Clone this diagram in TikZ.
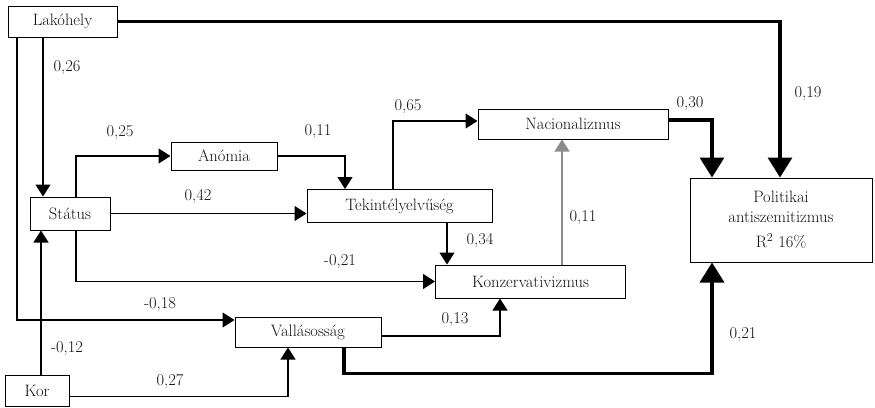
\documentclass[tikz,border=0pt]{standalone}
\usetikzlibrary{arrows.meta}
\definecolor{txt}{HTML}{111111}
\tikzset{
  box/.style={draw=black, line width=1pt, rectangle, inner sep=0pt, text=txt,
    font=\rmfamily\fontsize{16.5}{20}\selectfont},
  lbl/.style={text=txt, inner sep=0pt, font=\rmfamily\fontsize{16.5}{20}\selectfont},
  arr/.style={draw=black, line width=1.2pt, -{Triangle[length=12pt,width=15pt]}},
  garr/.style={draw=black!45, line width=1.4pt, -{Triangle[length=12pt,width=15pt]}},
  tarr/.style={draw=black, line width=3.4pt, -{Triangle[length=20pt,width=24pt]}}
}
\begin{document}
\begin{tikzpicture}[x=1pt,y=-1pt]
\useasboundingbox (0,0) rectangle (875,407);
% nodes
\node[box, minimum width=109pt, minimum height=31pt] (lak) at (62.5,21.5) {Lakóhely};
\node[box, minimum width=80pt, minimum height=33pt] (sta) at (70,213.5) {Státus};
\node[box, minimum width=106pt, minimum height=28pt] (ano) at (224,156) {Anómia};
\node[box, minimum width=185pt, minimum height=33pt] (tek) at (399.5,206) {Tekintélyelvűség};
\node[box, minimum width=190pt, minimum height=30pt] (nac) at (573,124) {Nacionalizmus};
\node[box, minimum width=182pt, minimum height=84pt, align=center] (pol) at (781,220)
  {Politikai\\antiszemitizmus\\[5pt]R$^2$ 16\%};
\node[box, minimum width=190pt, minimum height=33pt] (kon) at (530.5,281.5) {Konzervativizmus};
\node[box, minimum width=146pt, minimum height=30pt] (val) at (308,332) {Vallásosság};
\node[box, minimum width=64pt, minimum height=31pt] (kor) at (37,390.5) {Kor};
% connectors
\draw[arr] ([xshift=-45.5pt]lak.south) |- ([yshift=12pt]val.west);
\draw[arr] ([xshift=-27pt]sta.north |- lak.south) -- ([xshift=-27pt]sta.north);
\draw[arr] ([xshift=6pt]sta.north) |- (ano.west);
\draw[arr] (ano.east) -| ([xshift=-54.5pt]tek.north);
\draw[arr] (sta.east) -- (sta.east -| tek.west);
\draw[arr] ([xshift=-6.5pt]tek.north) |- ([yshift=3pt]nac.west);
\draw[arr] ([xshift=-83.5pt]kon.north |- tek.south) -- ([xshift=-83.5pt]kon.north);
\draw[garr] ([xshift=-11pt]nac.south |- kon.north) -- ([xshift=-11pt]nac.south);
\draw[arr] ([xshift=6pt]sta.south) |- (kon.west);
\draw[arr] ([yshift=-4pt]val.east) -| ([xshift=-30.5pt]kon.south);
\draw[tarr] ([xshift=36pt]val.south) -- ([xshift=36pt,yshift=-26pt]val.south) -| ([xshift=-69pt]pol.south);
\draw[tarr] ([yshift=4pt]nac.east) -| ([xshift=-69pt]pol.north);
\draw[tarr] (lak.east) -| ([xshift=-1pt]pol.north);
\draw[arr] ([xshift=-29pt]sta.south |- kor.north) -- ([xshift=-29pt]sta.south);
\draw[arr] ([yshift=-6pt]kor.east) -| ([xshift=-20pt]val.south);
% labels
\node[lbl] (l1) at (67,68) {0,26};
\node[lbl] (l2) at (120,133) {0,25};
\node[lbl] (l3) at (318,132) {0,11};
\node[lbl] (l4) at (198,197) {0,42};
\node[lbl] (l5) at (408,107) {0,65};
\node[lbl] (l6) at (690,104) {0,30};
\node[lbl] (l7) at (808,94) {0,19};
\node[lbl] (l8) at (480,241) {0,34};
\node[lbl] (l9) at (583,218) {0,11};
\node[lbl] (l10) at (340,262) {-0,21};
\node[lbl] (l11) at (160,305) {-0,18};
\node[lbl] (l12) at (455,320) {0,13};
\node[lbl] (l13) at (743,335) {0,21};
\node[lbl] (l14) at (67,349) {-0,12};
\node[lbl] (l15) at (170,382) {0,27};
\end{tikzpicture}
\end{document}
